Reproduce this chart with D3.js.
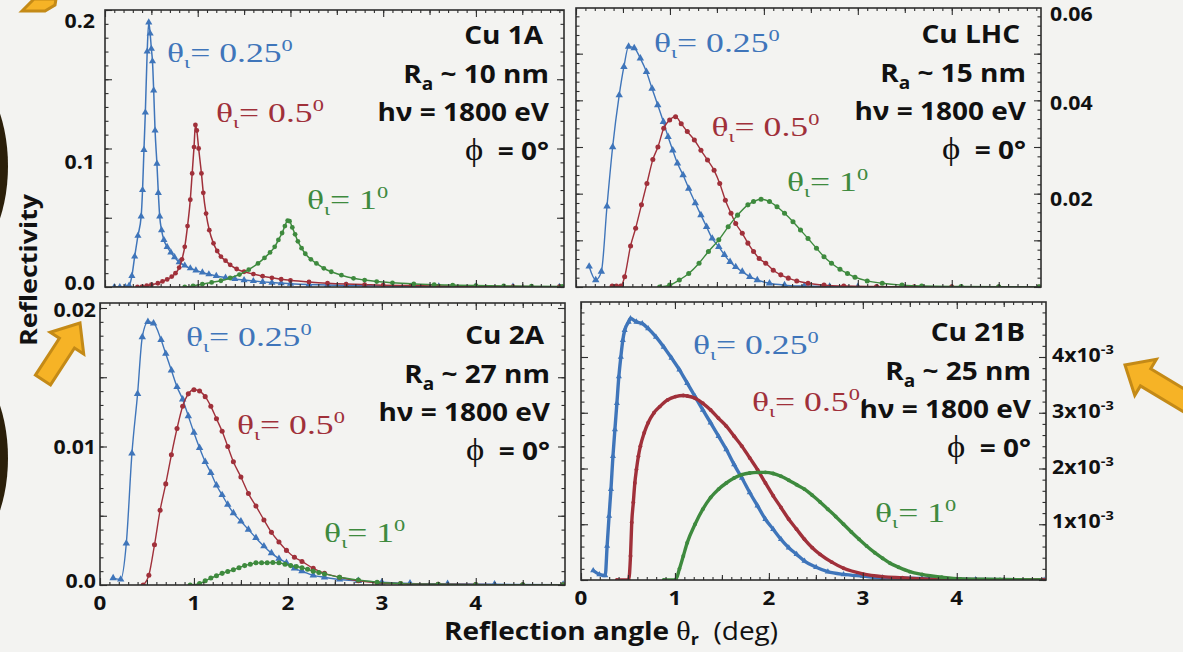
<!DOCTYPE html>
<html>
<head>
<meta charset="utf-8">
<script src="https://cdn.jsdelivr.net/npm/d3@7"></script>
<style>
    body { margin: 0; background: #f3f3f1; }
    svg { display: block; }
</style>
</head>
<body>
<script>
/* ========================== Data ========================= */
// reflection angle in deg, reflectivity
var cu1A_025 = [[0.10,0],[0.16,0],[0.22,0],[0.26,0.001],[0.29,0.008],[0.32,0.022],[0.355,0.037],[0.39,0.051],
    [0.405,0.070],[0.42,0.099],[0.435,0.126],[0.455,0.170],[0.472,0.191],[0.487,0.183],[0.50,0.172],[0.512,0.163],
    [0.525,0.142],[0.54,0.113],[0.56,0.089],[0.575,0.068],[0.59,0.051],[0.61,0.041],[0.635,0.034],[0.67,0.029],
    [0.71,0.025],[0.75,0.0215],[0.80,0.018],[0.86,0.0155],[0.92,0.0135],[0.98,0.012],[1.05,0.0105],[1.12,0.0092],
    [1.20,0.008],[1.30,0.0068],[1.40,0.0058],[1.50,0.005],[1.60,0.0043],[1.70,0.0037],[1.80,0.0032],[1.90,0.0028],
    [2.00,0.0024],[2.20,0.0018],[2.40,0.0014],[2.60,0.0011],[2.80,0.0009],[3.00,0.0007],[3.30,0.0005],[3.60,0.0004],
    [4.00,0.0003],[4.40,0.0002],[4.90,0.0001]];
var cu1A_05 = [[0.35,0],[0.40,0.0003],[0.45,0.001],[0.50,0.0017],[0.57,0.0027],[0.62,0.004],[0.67,0.0055],[0.72,0.0075],
    [0.76,0.010],[0.80,0.014],[0.83,0.020],[0.86,0.029],[0.89,0.044],[0.92,0.063],[0.94,0.082],[0.96,0.101],[0.975,0.117],
    [0.99,0.113],[1.01,0.100],[1.04,0.082],[1.06,0.068],[1.09,0.053],[1.125,0.041],[1.17,0.0315],[1.21,0.026],[1.25,0.022],
    [1.30,0.019],[1.35,0.016],[1.42,0.013],[1.50,0.011],[1.60,0.0093],[1.70,0.0078],[1.80,0.0066],[1.90,0.0056],[2.00,0.0048],
    [2.20,0.0036],[2.40,0.0027],[2.60,0.0021],[2.80,0.0017],[3.00,0.0013],[3.30,0.001],[3.60,0.0007],[4.00,0.0005],
    [4.40,0.0003],[4.90,0.0002]];
var cu1A_1 = [[0.86,0],[0.95,0.0008],[1.05,0.002],[1.15,0.0033],[1.25,0.0045],[1.35,0.0065],[1.45,0.009],[1.55,0.0125],
    [1.65,0.017],[1.72,0.021],[1.78,0.025],[1.83,0.029],[1.87,0.034],[1.91,0.039],[1.94,0.044],[1.97,0.048],[1.99,0.0475],
    [2.02,0.043],[2.05,0.038],[2.08,0.033],[2.12,0.028],[2.16,0.024],[2.22,0.020],[2.28,0.017],[2.36,0.0135],[2.44,0.011],
    [2.55,0.0085],[2.68,0.0063],[2.80,0.005],[2.93,0.0039],[3.10,0.003],[3.33,0.0022],[3.55,0.0017],[3.75,0.0014],
    [4.00,0.001],[4.30,0.0008],[4.60,0.0006],[4.93,0.0004]];

var cuLHC_025 = [[0.14,0.0044],[0.21,0.0015],[0.27,0.0033],[0.33,0.0173],[0.39,0.030],[0.46,0.0411],[0.51,0.0472],
    [0.56,0.0515],[0.62,0.0512],[0.685,0.049],[0.75,0.0461],[0.81,0.0425],[0.87,0.039],[0.93,0.0354],[0.98,0.0322],
    [1.03,0.0293],[1.08,0.0265],[1.14,0.024],[1.20,0.0211],[1.27,0.018],[1.33,0.0154],[1.39,0.0129],[1.45,0.0104],
    [1.52,0.0086],[1.58,0.0069],[1.64,0.0054],[1.70,0.0043],[1.77,0.0033],[1.85,0.0022],[1.93,0.0015],[2.06,0.0008],
    [2.22,0.0004],[2.43,0.0002],[2.70,0.0001],[3.00,0.00005]];
var cuLHC_05 = [[0.385,0.0002],[0.43,0.0002],[0.477,0.0002],[0.518,0.0022],[0.581,0.0088],[0.635,0.0126],[0.697,0.0176],
    [0.755,0.0222],[0.818,0.0273],[0.872,0.030],[0.934,0.034],[0.997,0.0358],[1.06,0.0365],[1.12,0.035],[1.185,0.0333],
    [1.26,0.0315],[1.33,0.0293],[1.40,0.0272],[1.47,0.025],[1.53,0.0222],[1.59,0.0186],[1.65,0.0158],[1.70,0.0136],
    [1.77,0.0115],[1.83,0.0094],[1.89,0.0076],[1.95,0.0061],[2.02,0.0051],[2.10,0.0036],[2.18,0.0026],[2.26,0.0019],
    [2.35,0.0013],[2.47,0.0008],[2.64,0.0004],[2.85,0.0002],[3.20,0.0001],[3.60,0.00005],[4.00,0.00003],[4.50,0.00002],
    [4.93,0.00001]];
var cuLHC_1 = [[0.89,0],[0.997,0.0004],[1.10,0.0015],[1.20,0.0029],[1.31,0.0051],[1.41,0.0076],[1.52,0.0101],[1.62,0.0129],
    [1.72,0.0154],[1.83,0.0176],[1.89,0.0183],[1.97,0.0188],[2.06,0.0183],[2.14,0.0172],[2.22,0.0158],[2.31,0.014],
    [2.39,0.0122],[2.47,0.0104],[2.56,0.0083],[2.64,0.0065],[2.72,0.0051],[2.81,0.0038],[2.89,0.0029],[2.97,0.0021],
    [3.10,0.0013],[3.26,0.0008],[3.47,0.0004],[3.68,0.0002],[4.10,0.0001],[4.50,0.00005],[4.93,0.00003]];

var cu2A_025 = [[0.14,0.0005],[0.22,0.0004],[0.28,0.003],[0.34,0.0095],[0.40,0.0138],[0.45,0.0179],[0.51,0.019],
    [0.57,0.0189],[0.65,0.0177],[0.70,0.0167],[0.76,0.0155],[0.82,0.0143],[0.88,0.0134],[0.94,0.0122],[1.00,0.011],
    [1.06,0.0099],[1.12,0.0089],[1.18,0.0081],[1.24,0.0072],[1.30,0.0065],[1.36,0.0058],[1.42,0.0052],[1.50,0.0046],
    [1.58,0.004],[1.66,0.0034],[1.745,0.0028],[1.825,0.0023],[1.905,0.0019],[1.985,0.0016],[2.07,0.0012],[2.15,0.001],
    [2.27,0.0007],[2.39,0.00056],[2.55,0.0004],[2.75,0.0003],[3.00,0.0002],[3.30,0.00012],[3.70,0.00008],[4.20,0.00005],
    [4.93,0.00003]];
var cu2A_05 = [[0.46,0],[0.52,0.0007],[0.58,0.0029],[0.64,0.0054],[0.70,0.0073],[0.76,0.0094],[0.82,0.0113],[0.88,0.0129],
    [0.94,0.0138],[1.00,0.0141],[1.06,0.014],[1.12,0.0136],[1.18,0.0129],[1.24,0.012],[1.30,0.0111],[1.36,0.010],
    [1.42,0.0089],[1.50,0.0078],[1.58,0.0066],[1.66,0.0057],[1.745,0.0047],[1.825,0.0038],[1.905,0.0031],[1.985,0.0025],
    [2.07,0.002],[2.15,0.0017],[2.27,0.0012],[2.39,0.00084],[2.55,0.00056],[2.75,0.0003],[2.95,0.00016],[3.20,0.0001],
    [3.60,0.00006],[4.00,0.00004],[4.50,0.00002],[4.93,0.00001]];
var cu2A_1 = [[0.96,0],[1.06,0.0001],[1.12,0.0003],[1.18,0.0005],[1.24,0.00067],[1.30,0.00084],[1.36,0.00098],[1.42,0.0011],
    [1.48,0.00125],[1.54,0.0014],[1.60,0.0015],[1.66,0.0016],[1.72,0.0016],[1.78,0.00161],[1.84,0.00162],[1.905,0.0016],
    [1.97,0.0015],[2.03,0.0014],[2.09,0.00133],[2.15,0.00125],[2.21,0.00113],[2.27,0.001],[2.33,0.0009],[2.39,0.0008],
    [2.55,0.00056],[2.75,0.00036],[2.95,0.0002],[3.20,0.0001],[3.60,0.00005],[4.00,0.00003],[4.50,0.00002],[4.93,0.00001]];

var cu21B_025 = [[0.13,0.00017],[0.195,0.0001],[0.258,0.00008],[0.278,0.00061],[0.299,0.00115],[0.319,0.00163],
    [0.34,0.00222],[0.361,0.0027],[0.382,0.00317],[0.403,0.00365],[0.424,0.004],[0.445,0.0043],[0.465,0.00448],
    [0.507,0.00463],[0.527,0.00469],[0.59,0.00463],[0.652,0.0046],[0.715,0.00451],[0.798,0.00436],[0.881,0.00418],
    [0.964,0.00398],[1.048,0.00377],[1.131,0.00353],[1.214,0.00329],[1.297,0.00305],[1.38,0.00282],[1.464,0.00258],
    [1.547,0.00234],[1.63,0.00207],[1.713,0.00183],[1.796,0.00157],[1.879,0.00133],[1.963,0.00109],[2.046,0.00091],
    [2.129,0.00073],[2.212,0.00058],[2.295,0.00046],[2.379,0.00034],[2.503,0.00023],[2.628,0.00015],[2.795,0.0001],
    [3.00,0.00007],[3.21,0.00004],[3.63,0.00003],[4.20,0.00001],[4.93,0]];
var cu21B_05 = [[0.382,0],[0.507,0],[0.527,0.00043],[0.54,0.00103],[0.557,0.00139],[0.573,0.00174],[0.59,0.00198],
    [0.611,0.00222],[0.632,0.0024],[0.673,0.00264],[0.715,0.00282],[0.777,0.003],[0.839,0.00311],[0.922,0.00323],
    [1.006,0.00329],[1.089,0.00331],[1.131,0.0033],[1.214,0.00326],[1.297,0.00317],[1.38,0.00305],[1.464,0.0029],
    [1.547,0.00276],[1.63,0.00258],[1.713,0.0024],[1.796,0.00219],[1.879,0.00198],[1.963,0.00174],[2.046,0.00151],
    [2.129,0.0013],[2.212,0.00109],[2.295,0.00091],[2.379,0.00073],[2.462,0.00058],[2.545,0.00046],[2.67,0.00032],
    [2.795,0.00021],[3.00,0.00011],[3.21,0.00006],[3.42,0.00004],[3.63,0.00002],[4.04,0.00001],[4.93,0]];
var cu21B_1 = [[0.881,0],[1.006,0],[1.048,0.0002],[1.089,0.00043],[1.131,0.00067],[1.214,0.001],[1.297,0.00127],
    [1.38,0.00148],[1.464,0.00163],[1.547,0.00174],[1.63,0.00183],[1.713,0.00189],[1.796,0.00192],[1.879,0.00193],
    [1.963,0.00193],[2.046,0.00191],[2.129,0.00186],[2.212,0.00179],[2.295,0.00171],[2.379,0.00163],[2.462,0.00152],
    [2.545,0.0014],[2.628,0.00127],[2.711,0.00114],[2.795,0.001],[2.878,0.00086],[2.96,0.00073],[3.04,0.00061],
    [3.127,0.00049],[3.21,0.00039],[3.29,0.0003],[3.38,0.00023],[3.50,0.00015],[3.63,0.0001],[3.84,0.00005],
    [4.04,0.00002],[4.46,0.00001],[4.88,0]];

// texts
var sampleNames = ["Cu 1A", "Cu LHC", "Cu 2A", "Cu 21B"];
var roughnessNm = ["10", "15", "27", "25"];
var photonEnergy = "1800";
var azimuth = "0°";
var incidentAngles = ["0.25", "0.5", "1"];

// tick labels
var xTickValues = [0, 1, 2, 3, 4];
var xTickLabels = ["0", "1", "2", "3", "4"];
var yTicksTL = [0, 0.1, 0.2],            yLabelsTL = ["0.0", "0.1", "0.2"];
var yTicksTR = [0.02, 0.04, 0.06],       yLabelsTR = ["0.02", "0.04", "0.06"];
var yTicksBL = [0, 0.01, 0.02],          yLabelsBL = ["0.0", "0.01", "0.02"];
var yTicksBR = [0.001, 0.002, 0.003, 0.004], yLabelsBR = ["1", "2", "3", "4"];

/* ========================== Style / layout ========================= */
var w = 1183, h = 652;
var BG = "#f3f3f1";
var blue = "#3f75ba", red = "#a0303a", green = "#3e8a3e";
var frameColor = "#2e2e2e";
var SANS = "'Open Sans', 'DejaVu Sans', sans-serif";
var SERIF = "'Liberation Serif', 'DejaVu Serif', serif";
var SX = 1.12;      // the figure is slightly stretched horizontally
var SX_ANNO = 1.32; // the serif angle labels are stretched more
var xMax = 4.95;

var panels = [
    { frame: {l: 105, t: 10, r: 564, b: 287}, yDom: [0, 0.2], yRng: [287, 10],
      yMajor: 0.05, yMinor: 0.01, ticks: yTicksTL, labels: yLabelsTL, side: "left", gap: 10, labelDy: [-4, 13, 11],
      xLabels: false, lw: 1.5, ms: 18, infoTop: 35,
      series: [cu1A_025, cu1A_05, cu1A_1], annos: [[0.669, 0.169], [1.197, 0.1256], [2.178, 0.0628]] },
    { frame: {l: 576, t: 8, r: 1041, b: 287}, yDom: [0, 0.06], yRng: [287, 7],
      yMajor: 0.01, yMinor: 0.002, ticks: yTicksTR, labels: yLabelsTR, side: "right", gap: 9, labelDy: [5, 3, 7],
      xLabels: false, lw: 1.4, ms: 20, infoTop: 34,
      series: [cuLHC_025, cuLHC_05, cuLHC_1], annos: [[0.83, 0.0523], [1.442, 0.0343], [2.246, 0.0225]] },
    { frame: {l: 100, t: 303, r: 565, b: 585}, yDom: [0, 0.02], yRng: [585, 308],
      yMajor: 0.005, yMinor: 0.001, ticks: yTicksBL, labels: yLabelsBL, side: "left", gap: 4, labelDy: [-4, 0, 2],
      xLabels: true, xLabelY: 610, lw: 1.4, ms: 20, infoTop: 335,
      series: [cu2A_025, cu2A_05, cu2A_1], annos: [[0.915, 0.0179], [1.458, 0.01155], [2.385, 0.00375]] },
    { frame: {l: 581, t: 302, r: 1046, b: 580}, yDom: [0, 0.004], yRng: [580, 357],
      yMajor: 0.001, yMinor: 0.0002, ticks: yTicksBR, labels: yLabelsBR, side: "right", gap: 6, labelDy: [-3, -2, -2, -2],
      xLabels: true, xLabelY: 605, lw: 3.4, ms: 12, infoTop: 332, sci: true,
      series: [cu21B_025, cu21B_05, cu21B_1], annos: [[1.192, 0.00421], [1.82, 0.00319], [3.13, 0.0012]] }
];
var seriesColors = [blue, red, green];
var seriesSymbols = [d3.symbolTriangle, d3.symbolCircle, d3.symbolCircle];

/* ========================== Create SVG ========================= */
var svg = d3.select("body").append("svg")
    .attr("width", w)
    .attr("height", h);
svg.append("rect").attr("width", w).attr("height", h).attr("fill", BG);

// slide decorations: dark round shapes at the left edge and orange arrows
svg.append("ellipse").attr("cx", -40).attr("cy", 166).attr("rx", 48).attr("ry", 95).attr("fill", "#2b1f0a");
svg.append("ellipse").attr("cx", -40).attr("cy", 458).attr("rx", 48).attr("ry", 95).attr("fill", "#2b1f0a");
drawArrow(80, 323, -57, 68, 24, 40, 18);
drawArrow(1125, 365, 211, 90, 24, 42, 20);
svg.append("polygon")
    .attr("points", "22,11 34,-1 56,-1 55,5 45,11")
    .attr("fill", "#f6b326").attr("stroke", "#c48a17").attr("stroke-width", 3);

panels.forEach(function (p, i) { drawPanel(p, i); });

// axis titles
var yt = stretched(svg, 28, 270, "middle", SX, -90)
    .attr("font-family", SANS).attr("font-weight", 700).attr("font-size", 24).attr("fill", "#111");
yt.append("tspan").attr("y", 9).text("Reflectivity");

var xt = stretched(svg, 611, 640, "middle", SX)
    .attr("font-family", SANS).attr("font-size", 25).attr("fill", "#111");
xt.append("tspan").attr("font-weight", 700).text("Reflection angle ");
xt.append("tspan").attr("font-family", SERIF).attr("font-size", 27).text("θ");
xt.append("tspan").attr("font-weight", 700).attr("font-size", 16).attr("dy", 5).text("r");
xt.append("tspan").attr("dy", -5).text("\u00a0\u00a0(deg)");

/* ========================== Functions ========================= */
function stretched(parent, x, y, anchor, sx, rot) {
    var tr = "translate(" + x + "," + y + ")" + (rot ? " rotate(" + rot + ")" : "") + " scale(" + sx + ",1)";
    return parent.append("text").attr("transform", tr).attr("text-anchor", anchor);
}

function drawArrow(tx, ty, angle, len, headLen, headW, shaftW) {
    var pts = [[0, 0], [-headLen, -headW / 2], [-headLen, -shaftW / 2], [-len, -shaftW / 2],
        [-len, shaftW / 2], [-headLen, shaftW / 2], [-headLen, headW / 2]];
    svg.append("polygon")
        .attr("points", pts.map(function (q) { return q.join(","); }).join(" "))
        .attr("transform", "translate(" + tx + "," + ty + ") rotate(" + angle + ")")
        .attr("fill", "#f6b326")
        .attr("stroke", "#c48a17")
        .attr("stroke-width", 3)
        .attr("stroke-linejoin", "miter");
}

function drawPanel(p, idx) {
    var f = p.frame;
    var g = svg.append("g");
    var xScale = d3.scaleLinear().domain([0, xMax]).range([f.l, f.r]);
    var yScale = d3.scaleLinear().domain(p.yDom).range(p.yRng);
    var yTop = yScale.invert(f.t);

    var clipId = "clip" + idx;
    svg.append("clipPath").attr("id", clipId).append("rect")
        .attr("x", f.l).attr("y", f.t - 2).attr("width", f.r - f.l).attr("height", f.b - f.t + 2);

    // curves with markers
    var line = d3.line()
        .x(function (d) { return xScale(d[0]); })
        .y(function (d) { return yScale(d[1]); })
        .curve(d3.curveMonotoneX);
    var plot = g.append("g").attr("clip-path", "url(#" + clipId + ")");
    p.series.forEach(function (data, s) {
        plot.append("path")
            .datum(data)
            .attr("fill", "none")
            .attr("stroke", seriesColors[s])
            .attr("stroke-width", p.lw)
            .attr("stroke-linejoin", "round")
            .attr("stroke-linecap", "round")
            .attr("d", line);
        var sym = d3.symbol().type(seriesSymbols[s]).size(s == 0 ? p.ms + 4 : p.ms);
        plot.selectAll(null)
            .data(data)
            .enter()
            .append("path")
            .attr("transform", function (d) { return "translate(" + xScale(d[0]) + "," + yScale(d[1]) + ")"; })
            .attr("d", sym)
            .attr("fill", seriesColors[s]);
    });

    // frame
    g.append("rect")
        .attr("x", f.l).attr("y", f.t)
        .attr("width", f.r - f.l).attr("height", f.b - f.t)
        .attr("fill", "none")
        .attr("stroke", frameColor)
        .attr("stroke-width", 1.6);

    // inward ticks on all four sides
    var eps = 1e-9;
    var xMinor = d3.range(0, xMax + eps, 0.1);
    var xMid = d3.range(0.5, xMax, 1);
    var yMajorT = d3.range(0, yTop + eps, p.yMajor);
    var yMinorT = d3.range(0, yTop + eps, p.yMinor);
    [[xMinor, 3], [xMid, 5], [xTickValues, 7]].forEach(function (t) {
        ticks(g, d3.axisBottom(xScale), t[0], t[1], "translate(0," + f.b + ")");
        ticks(g, d3.axisTop(xScale), t[0], t[1], "translate(0," + f.t + ")");
    });
    [[yMinorT, 3.5], [yMajorT, 7]].forEach(function (t) {
        ticks(g, d3.axisLeft(yScale), t[0], t[1], "translate(" + f.l + ",0)");
        ticks(g, d3.axisRight(yScale), t[0], t[1], "translate(" + f.r + ",0)");
    });

    // y tick labels
    p.ticks.forEach(function (v, k) {
        var left = p.side == "left";
        var tx = left ? f.l - p.gap : f.r + p.gap;
        var t = stretched(g, tx, yScale(v) + p.labelDy[k] + 7, left ? "end" : "start", SX)
            .attr("font-family", SANS).attr("font-weight", 700).attr("font-size", 19).attr("fill", "#111");
        if (p.sci) {
            t.append("tspan").text(p.labels[k] + "x10");
            t.append("tspan").attr("font-size", 13).attr("dy", -8).text("-3");
        } else {
            t.text(p.labels[k]);
        }
    });

    // x tick labels
    if (p.xLabels) {
        xTickValues.forEach(function (v, k) {
            stretched(g, xScale(v), p.xLabelY, "middle", SX)
                .attr("font-family", SANS).attr("font-weight", 700).attr("font-size", 20).attr("fill", "#111")
                .text(xTickLabels[k]);
        });
    }

    // sample info, right aligned
    var xr = f.r - 15;
    var info = function (row, dx) {
        return stretched(g, xr + (dx || 0), p.infoTop + row * 38.5 + 9, "end", SX)
            .attr("font-family", SANS).attr("font-weight", 700).attr("font-size", 25).attr("fill", "#111");
    };
    info(0, -6).text(sampleNames[idx]);
    var ra = info(1);
    ra.append("tspan").text("R");
    ra.append("tspan").attr("font-size", 17).attr("dy", 7).text("a");
    ra.append("tspan").attr("dy", -7).text(" ~ " + roughnessNm[idx] + " nm");
    info(2).text("hν = " + photonEnergy + " eV");
    var phi = info(3);
    phi.append("tspan").attr("font-family", SERIF).attr("font-weight", 400).attr("font-size", 31).text("ϕ");
    phi.append("tspan").text("\u00a0\u00a0= " + azimuth);

    // incidence angle labels, drawn with a halo in the background colour (as pasted boxes in the original)
    p.annos.forEach(function (a, s) {
        var t = stretched(g, xScale(a[0]), yScale(a[1]) + 9, "start", SX_ANNO)
            .attr("font-family", SERIF).attr("font-size", 27).attr("fill", seriesColors[s])
            .attr("stroke", BG).attr("stroke-width", 8).attr("stroke-linejoin", "round")
            .style("paint-order", "stroke");
        t.append("tspan").text("θ");
        t.append("tspan").attr("font-size", 17).attr("dy", 6).text("ι");
        t.append("tspan").attr("dy", -6).text("= " + incidentAngles[s]);
        t.append("tspan").attr("font-size", 17).attr("dy", -11).text("0");
    });
}

function ticks(g, axis, values, len, transform) {
    g.append("g")
        .attr("transform", transform)
        .attr("color", frameColor)
        .call(axis.tickValues(values).tickSize(-len).tickFormat(""))
        .call(function (s) { s.select(".domain").remove(); })
        .selectAll("line").attr("stroke-width", 1.1);
}
</script>
</body>
</html>
